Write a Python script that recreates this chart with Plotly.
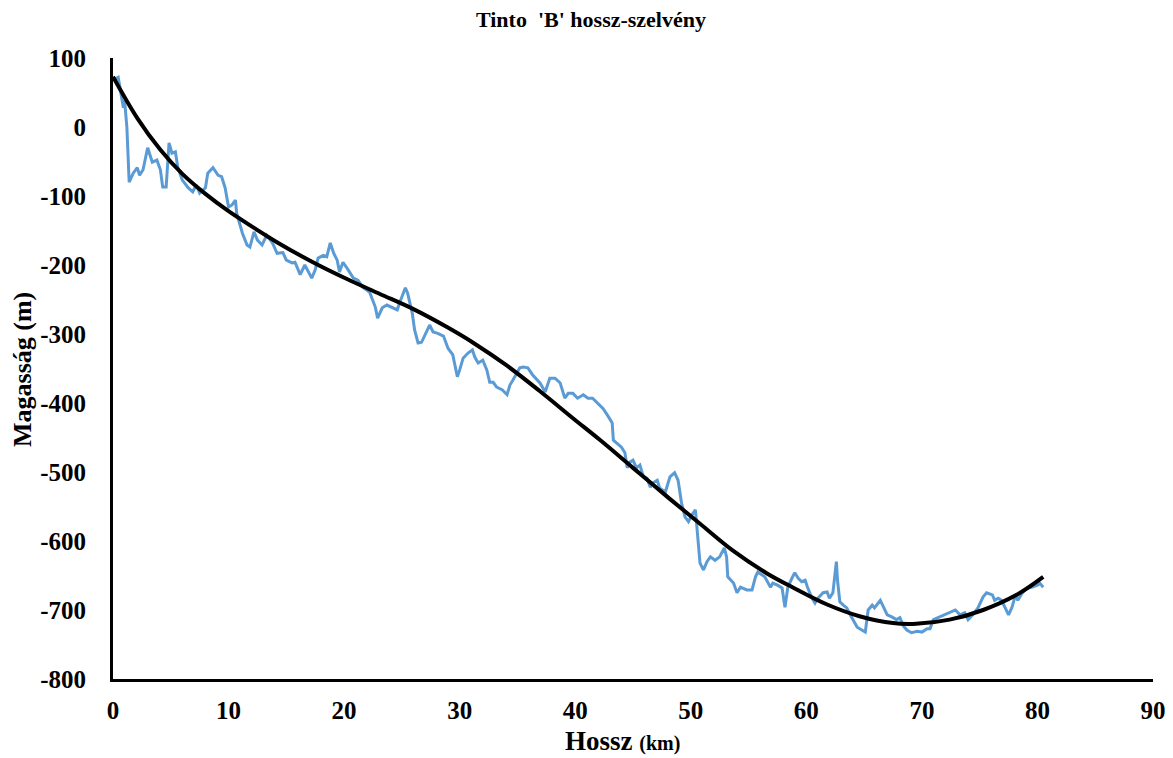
import plotly.graph_objects as go

# Measured profile (km, m)
profile_km = [0.0, 0.45, 0.9, 1.0, 1.2, 1.4, 1.75, 2.1, 2.3, 2.6, 3.0, 3.4, 3.8, 4.1, 4.3, 4.6, 4.85, 5.1, 5.4, 5.6,
              6.0, 6.5, 6.9, 7.2, 7.5, 8.0, 8.2, 8.65, 9.1, 9.4, 9.7, 10.0, 10.3, 10.6, 10.7, 11.2, 11.6, 11.85, 12.2, 12.5,
              12.9, 13.3, 13.8, 14.2, 14.7, 15.0, 15.5, 15.75, 16.2, 16.6, 17.2, 17.5, 17.75, 18.2, 18.5, 18.8, 19.1, 19.4, 19.6, 19.9,
              20.35, 20.8, 21.2, 21.6, 22.2, 22.7, 22.9, 23.3, 23.7, 24.1, 24.6, 24.8, 25.3, 25.5, 25.9, 26.1, 26.4, 26.7, 27.2, 27.4,
              27.7, 28.1, 28.6, 29.0, 29.4, 29.8, 30.0, 30.3, 30.7, 31.1, 31.3, 31.6, 32.0, 32.35, 32.6, 32.9, 33.2, 33.7, 34.1, 34.35,
              34.6, 35.2, 35.5, 35.9, 36.3, 36.95, 37.4, 37.8, 38.25, 38.7, 39.1, 39.4, 39.8, 40.2, 40.7, 41.1, 41.5, 42.0, 42.4, 42.8,
              43.2, 43.3, 43.6, 44.0, 44.3, 44.5, 44.7, 45.0, 45.3, 45.6, 45.9, 46.2, 46.5, 46.7, 47.1, 47.3, 47.8, 48.2, 48.6, 48.9,
              49.2, 49.5, 49.8, 50.1, 50.4, 50.5, 50.8, 51.1, 51.4, 51.7, 52.1, 52.5, 52.9, 53.1, 53.2, 53.7, 54.0, 54.3, 54.85, 55.3,
              55.6, 55.8, 56.4, 56.9, 57.1, 57.5, 57.9, 58.15, 58.4, 58.75, 59.0, 59.3, 59.6, 59.9, 60.1, 60.5, 60.75, 61.0, 61.45, 61.8,
              62.0, 62.3, 62.6, 62.7, 62.9, 63.2, 63.5, 63.8, 64.05, 64.4, 64.8, 65.1, 65.35, 65.7, 65.9, 66.4, 66.6, 67.0, 67.4, 67.8,
              68.1, 68.4, 68.7, 69.1, 69.6, 70.0, 70.45, 70.7, 71.0, 71.4, 72.0, 72.4, 72.9, 73.3, 73.7, 74.0, 74.4, 74.85, 75.3, 75.6,
              76.1, 76.3, 76.6, 76.9, 77.2, 77.5, 77.8, 78.1, 78.3, 78.7, 79.1, 79.5, 80.0, 80.2, 80.5]
profile_m = [68, 72, 28, 39, 0, -80, -67, -59, -70, -62, -30, -51, -48, -62, -87, -87, -23, -38, -36, -58,
             -77, -88, -94, -84, -96, -88, -67, -59, -70, -72, -88, -116, -113, -106, -125, -154, -171, -174, -152, -164,
             -171, -157, -168, -183, -182, -193, -197, -196, -214, -200, -219, -207, -190, -186, -188, -168, -183, -193, -210, -196,
             -207, -219, -222, -232, -239, -261, -277, -262, -258, -261, -265, -255, -233, -241, -270, -294, -313, -312, -294, -287,
             -297, -299, -303, -321, -330, -362, -352, -335, -328, -323, -333, -342, -338, -352, -370, -370, -377, -381, -388, -374,
             -367, -349, -348, -349, -359, -371, -384, -364, -364, -371, -393, -386, -386, -393, -388, -393, -393, -401, -408, -418,
             -429, -454, -458, -464, -472, -494, -486, -483, -494, -490, -507, -509, -522, -516, -512, -523, -529, -507, -501, -512,
             -545, -565, -572, -562, -555, -577, -632, -642, -630, -623, -628, -623, -610, -623, -652, -661, -675, -667, -671, -671,
             -652, -645, -652, -667, -661, -664, -668, -696, -667, -654, -646, -654, -659, -657, -667, -683, -690, -683, -675, -674,
             -683, -675, -630, -657, -688, -693, -697, -707, -714, -725, -729, -732, -700, -693, -697, -686, -693, -707, -710, -714,
             -711, -723, -729, -733, -731, -732, -727, -727, -714, -711, -707, -704, -700, -707, -704, -714, -707, -697, -681, -675,
             -678, -686, -683, -686, -696, -707, -696, -678, -686, -675, -668, -667, -664, -661, -667]

# Trend line
trend_km = [0, 2.1, 4.1, 6, 8, 10, 12, 14.3, 17.3, 20.2, 23.1, 26, 28.9, 31.2, 34.1, 36.95, 39.8, 42.1, 45, 47.9,
            50.8, 53.65, 56.6, 58.8, 61.8, 64.6, 67.5, 69.5, 72.4, 75.3, 78.2, 80.5]
trend_m = [73, 13, -33, -68, -97, -122, -144, -168, -196, -220, -242, -264, -290, -313, -346, -383, -422, -453, -494, -535,
           -575, -614, -647, -667, -692, -709, -719, -720, -714, -700, -678, -652]

x_ticks = [0, 10, 20, 30, 40, 50, 60, 70, 80, 90]
y_ticks = [100, 0, -100, -200, -300, -400, -500, -600, -700, -800]

FONT = "Liberation Serif"
OFF = 8  # page body margin
W, H = 1173 - OFF, 758 - OFF
L, R, T, B = 113 - OFF, 20, 58 - OFF, 79
PW, PH = W - L - R, H - T - B


def px_x(page_x):
    return (page_x - OFF - L) / PW


def px_y(page_y):
    return 1 - (page_y - OFF - T) / PH


fig = go.Figure()
fig.add_trace(go.Scatter(x=profile_km, y=profile_m, mode="lines",
                         line=dict(color="#5B9BD5", width=3), showlegend=False))
fig.add_trace(go.Scatter(x=trend_km, y=trend_m, mode="lines",
                         line=dict(color="#000000", width=4, shape="spline", smoothing=1.0), showlegend=False))

fig.update_layout(
    width=W, height=H,
    margin=dict(l=L, r=R, t=T, b=B, autoexpand=False),
    paper_bgcolor="white", plot_bgcolor="white",
    font=dict(family=FONT, color="black"),
    title=dict(text="<b>Tinto\u00a0 'B' hossz-szelvény</b>", x=px_x(591), xanchor="center", xref="paper",
               yref="container", y=1.0, yanchor="top", pad=dict(t=4),
               font=dict(size=22, family=FONT, color="black")),
    xaxis=dict(range=[0, 90], tickvals=x_ticks, ticktext=[f"<b>{v}</b>" for v in x_ticks],
               showgrid=False, zeroline=False, showline=True, linecolor="black", linewidth=3,
               ticks="", ticklabelstandoff=7, automargin=False,
               tickfont=dict(size=25, family=FONT, color="black")),
    yaxis=dict(range=[-800, 100], tickvals=y_ticks, ticktext=[f"<b>{v}</b>" for v in y_ticks],
               showgrid=False, zeroline=False, showline=True, linecolor="black", linewidth=3,
               ticks="", ticklabelstandoff=19, automargin=False,
               tickfont=dict(size=25, family=FONT, color="black")),
    annotations=[
        dict(text="<b>Hossz <span style='font-size:20px'>(km)</span></b>", xref="paper", yref="paper",
             x=px_x(622), y=px_y(758), xanchor="center", yanchor="bottom",
             showarrow=False, font=dict(size=27, family=FONT, color="black")),
        dict(text="<b>Magasság (m)</b>", xref="paper", yref="paper",
             x=px_x(22), y=px_y(370), xanchor="center", yanchor="middle", textangle=-90,
             showarrow=False, font=dict(size=26, family=FONT, color="black")),
    ],
)

fig.write_html("out.html")
